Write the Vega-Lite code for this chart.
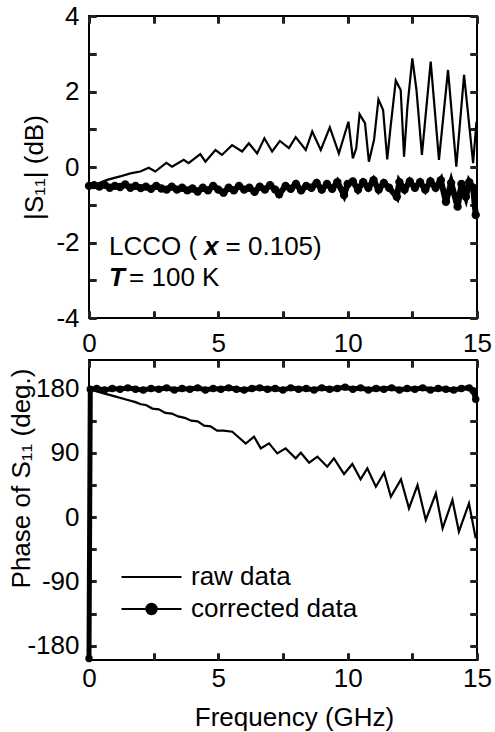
{
"$schema": "https://vega.github.io/schema/vega-lite/v6.json",
"background": "white",
"padding": {"left": 6, "top": 2, "right": 15, "bottom": 0},
"config": {
  "font": "Liberation Sans",
  "view": {"stroke": "black", "strokeWidth": 2},
  "axis": {"labelFont": "Liberation Sans", "labelFontSize": 26, "labelColor": "black", "titleFont": "Liberation Sans", "titleFontSize": 26, "titleFontWeight": "normal", "titleColor": "black", "domain": false, "grid": false, "labelFlush": false, "labelOverlap": false},
  "legend": {"labelFont": "Liberation Sans", "labelFontSize": 26, "labelColor": "black", "labelLimit": 400}
},
"datasets": {
  "mag": [
    {"f": 0, "v": -0.5, "series": "raw data"},
    {"f": 0.3, "v": -0.45, "series": "raw data"},
    {"f": 0.7, "v": -0.34, "series": "raw data"},
    {"f": 1.2, "v": -0.25, "series": "raw data"},
    {"f": 1.6, "v": -0.17, "series": "raw data"},
    {"f": 1.98, "v": -0.12, "series": "raw data"},
    {"f": 2.31, "v": -0.02, "series": "raw data"},
    {"f": 2.56, "v": -0.12, "series": "raw data"},
    {"f": 2.99, "v": 0.11, "series": "raw data"},
    {"f": 3.21, "v": 0.01, "series": "raw data"},
    {"f": 3.66, "v": 0.19, "series": "raw data"},
    {"f": 3.85, "v": 0.1, "series": "raw data"},
    {"f": 4.3, "v": 0.34, "series": "raw data"},
    {"f": 4.5, "v": 0.14, "series": "raw data"},
    {"f": 4.89, "v": 0.45, "series": "raw data"},
    {"f": 5.14, "v": 0.32, "series": "raw data"},
    {"f": 5.53, "v": 0.58, "series": "raw data"},
    {"f": 5.92, "v": 0.41, "series": "raw data"},
    {"f": 6.18, "v": 0.63, "series": "raw data"},
    {"f": 6.5, "v": 0.36, "series": "raw data"},
    {"f": 6.78, "v": 0.76, "series": "raw data"},
    {"f": 7.08, "v": 0.41, "series": "raw data"},
    {"f": 7.38, "v": 0.69, "series": "raw data"},
    {"f": 7.73, "v": 0.5, "series": "raw data"},
    {"f": 7.99, "v": 0.79, "series": "raw data"},
    {"f": 8.38, "v": 0.45, "series": "raw data"},
    {"f": 8.63, "v": 0.94, "series": "raw data"},
    {"f": 8.96, "v": 0.45, "series": "raw data"},
    {"f": 9.31, "v": 1.05, "series": "raw data"},
    {"f": 9.66, "v": 0.36, "series": "raw data"},
    {"f": 10.03, "v": 1.2, "series": "raw data"},
    {"f": 10.2, "v": 0.23, "series": "raw data"},
    {"f": 10.33, "v": 0.49, "series": "raw data"},
    {"f": 10.46, "v": 1.4, "series": "raw data"},
    {"f": 10.67, "v": 1.16, "series": "raw data"},
    {"f": 10.82, "v": 0.14, "series": "raw data"},
    {"f": 11.02, "v": 0.72, "series": "raw data"},
    {"f": 11.19, "v": 1.79, "series": "raw data"},
    {"f": 11.37, "v": 1.51, "series": "raw data"},
    {"f": 11.53, "v": 0.2, "series": "raw data"},
    {"f": 11.66, "v": 1.07, "series": "raw data"},
    {"f": 11.86, "v": 2.29, "series": "raw data"},
    {"f": 12.05, "v": 2.04, "series": "raw data"},
    {"f": 12.18, "v": 0.27, "series": "raw data"},
    {"f": 12.31, "v": 1.6, "series": "raw data"},
    {"f": 12.5, "v": 2.88, "series": "raw data"},
    {"f": 12.66, "v": 2.04, "series": "raw data"},
    {"f": 12.87, "v": 0.32, "series": "raw data"},
    {"f": 13.21, "v": 2.79, "series": "raw data"},
    {"f": 13.53, "v": 0.19, "series": "raw data"},
    {"f": 13.88, "v": 2.57, "series": "raw data"},
    {"f": 14.2, "v": 0.01, "series": "raw data"},
    {"f": 14.5, "v": 2.44, "series": "raw data"},
    {"f": 14.85, "v": 0.1, "series": "raw data"},
    {"f": 14.98, "v": 1.2, "series": "raw data"},
    {"f": 0, "v": -0.5, "series": "corrected data"},
    {"f": 0.2, "v": -0.48, "series": "corrected data"},
    {"f": 0.4, "v": -0.52, "series": "corrected data"},
    {"f": 0.6, "v": -0.47, "series": "corrected data"},
    {"f": 0.8, "v": -0.55, "series": "corrected data"},
    {"f": 1.0, "v": -0.5, "series": "corrected data"},
    {"f": 1.2, "v": -0.53, "series": "corrected data"},
    {"f": 1.4, "v": -0.46, "series": "corrected data"},
    {"f": 1.6, "v": -0.55, "series": "corrected data"},
    {"f": 1.8, "v": -0.5, "series": "corrected data"},
    {"f": 2.0, "v": -0.56, "series": "corrected data"},
    {"f": 2.2, "v": -0.52, "series": "corrected data"},
    {"f": 2.4, "v": -0.58, "series": "corrected data"},
    {"f": 2.6, "v": -0.5, "series": "corrected data"},
    {"f": 2.8, "v": -0.57, "series": "corrected data"},
    {"f": 3.0, "v": -0.6, "series": "corrected data"},
    {"f": 3.2, "v": -0.52, "series": "corrected data"},
    {"f": 3.4, "v": -0.6, "series": "corrected data"},
    {"f": 3.6, "v": -0.55, "series": "corrected data"},
    {"f": 3.8, "v": -0.62, "series": "corrected data"},
    {"f": 4.0, "v": -0.57, "series": "corrected data"},
    {"f": 4.2, "v": -0.65, "series": "corrected data"},
    {"f": 4.4, "v": -0.55, "series": "corrected data"},
    {"f": 4.6, "v": -0.62, "series": "corrected data"},
    {"f": 4.8, "v": -0.5, "series": "corrected data"},
    {"f": 5.0, "v": -0.6, "series": "corrected data"},
    {"f": 5.2, "v": -0.68, "series": "corrected data"},
    {"f": 5.4, "v": -0.55, "series": "corrected data"},
    {"f": 5.6, "v": -0.62, "series": "corrected data"},
    {"f": 5.8, "v": -0.5, "series": "corrected data"},
    {"f": 6.0, "v": -0.6, "series": "corrected data"},
    {"f": 6.2, "v": -0.55, "series": "corrected data"},
    {"f": 6.4, "v": -0.66, "series": "corrected data"},
    {"f": 6.6, "v": -0.52, "series": "corrected data"},
    {"f": 6.8, "v": -0.6, "series": "corrected data"},
    {"f": 7.0, "v": -0.48, "series": "corrected data"},
    {"f": 7.2, "v": -0.6, "series": "corrected data"},
    {"f": 7.35, "v": -0.72, "series": "corrected data"},
    {"f": 7.6, "v": -0.5, "series": "corrected data"},
    {"f": 7.8, "v": -0.58, "series": "corrected data"},
    {"f": 8.0, "v": -0.45, "series": "corrected data"},
    {"f": 8.2, "v": -0.62, "series": "corrected data"},
    {"f": 8.4, "v": -0.5, "series": "corrected data"},
    {"f": 8.6, "v": -0.55, "series": "corrected data"},
    {"f": 8.8, "v": -0.42, "series": "corrected data"},
    {"f": 9.0, "v": -0.6, "series": "corrected data"},
    {"f": 9.2, "v": -0.45, "series": "corrected data"},
    {"f": 9.4, "v": -0.58, "series": "corrected data"},
    {"f": 9.6, "v": -0.4, "series": "corrected data"},
    {"f": 9.86, "v": -0.74, "series": "corrected data"},
    {"f": 10.0, "v": -0.45, "series": "corrected data"},
    {"f": 10.2, "v": -0.38, "series": "corrected data"},
    {"f": 10.4, "v": -0.6, "series": "corrected data"},
    {"f": 10.6, "v": -0.4, "series": "corrected data"},
    {"f": 10.8, "v": -0.55, "series": "corrected data"},
    {"f": 11.0, "v": -0.35, "series": "corrected data"},
    {"f": 11.2, "v": -0.6, "series": "corrected data"},
    {"f": 11.4, "v": -0.42, "series": "corrected data"},
    {"f": 11.6, "v": -0.55, "series": "corrected data"},
    {"f": 11.9, "v": -0.79, "series": "corrected data"},
    {"f": 12.0, "v": -0.4, "series": "corrected data"},
    {"f": 12.2, "v": -0.6, "series": "corrected data"},
    {"f": 12.4, "v": -0.38, "series": "corrected data"},
    {"f": 12.6, "v": -0.55, "series": "corrected data"},
    {"f": 12.8, "v": -0.4, "series": "corrected data"},
    {"f": 13.0, "v": -0.6, "series": "corrected data"},
    {"f": 13.2, "v": -0.38, "series": "corrected data"},
    {"f": 13.4, "v": -0.55, "series": "corrected data"},
    {"f": 13.6, "v": -0.35, "series": "corrected data"},
    {"f": 13.8, "v": -0.92, "series": "corrected data"},
    {"f": 14.0, "v": -0.42, "series": "corrected data"},
    {"f": 14.25, "v": -1.05, "series": "corrected data"},
    {"f": 14.4, "v": -0.45, "series": "corrected data"},
    {"f": 14.57, "v": -0.79, "series": "corrected data"},
    {"f": 14.7, "v": -0.4, "series": "corrected data"},
    {"f": 14.85, "v": -0.55, "series": "corrected data"},
    {"f": 14.95, "v": -1.27, "series": "corrected data"}
  ],
  "phase": [
    {"f": 0.02, "v": 179, "series": "raw data"},
    {"f": 0.5, "v": 174, "series": "raw data"},
    {"f": 1.0, "v": 169, "series": "raw data"},
    {"f": 1.5, "v": 164, "series": "raw data"},
    {"f": 1.8, "v": 161, "series": "raw data"},
    {"f": 2.0, "v": 158, "series": "raw data"},
    {"f": 2.2, "v": 157, "series": "raw data"},
    {"f": 2.45, "v": 152, "series": "raw data"},
    {"f": 2.7, "v": 151, "series": "raw data"},
    {"f": 2.95, "v": 146, "series": "raw data"},
    {"f": 3.2, "v": 145, "series": "raw data"},
    {"f": 3.45, "v": 141, "series": "raw data"},
    {"f": 3.7, "v": 139, "series": "raw data"},
    {"f": 3.95, "v": 135, "series": "raw data"},
    {"f": 4.2, "v": 134, "series": "raw data"},
    {"f": 4.45, "v": 128, "series": "raw data"},
    {"f": 4.7, "v": 127, "series": "raw data"},
    {"f": 4.95, "v": 121, "series": "raw data"},
    {"f": 5.2, "v": 121, "series": "raw data"},
    {"f": 5.54, "v": 119.6, "series": "raw data"},
    {"f": 6.06, "v": 103, "series": "raw data"},
    {"f": 6.38, "v": 112.6, "series": "raw data"},
    {"f": 6.64, "v": 96.3, "series": "raw data"},
    {"f": 6.96, "v": 103.3, "series": "raw data"},
    {"f": 7.28, "v": 89.3, "series": "raw data"},
    {"f": 7.6, "v": 96.3, "series": "raw data"},
    {"f": 7.99, "v": 82.3, "series": "raw data"},
    {"f": 8.19, "v": 90.2, "series": "raw data"},
    {"f": 8.51, "v": 76.2, "series": "raw data"},
    {"f": 8.83, "v": 84.6, "series": "raw data"},
    {"f": 9.21, "v": 70.6, "series": "raw data"},
    {"f": 9.47, "v": 82.3, "series": "raw data"},
    {"f": 9.86, "v": 60.3, "series": "raw data"},
    {"f": 10.18, "v": 74.3, "series": "raw data"},
    {"f": 10.5, "v": 52.9, "series": "raw data"},
    {"f": 10.76, "v": 68.3, "series": "raw data"},
    {"f": 11.09, "v": 42.6, "series": "raw data"},
    {"f": 11.41, "v": 62.2, "series": "raw data"},
    {"f": 11.67, "v": 28.6, "series": "raw data"},
    {"f": 12.06, "v": 52.9, "series": "raw data"},
    {"f": 12.37, "v": 12.3, "series": "raw data"},
    {"f": 12.7, "v": 45, "series": "raw data"},
    {"f": 13.02, "v": -4, "series": "raw data"},
    {"f": 13.41, "v": 33.3, "series": "raw data"},
    {"f": 13.67, "v": -15.7, "series": "raw data"},
    {"f": 14.05, "v": 24, "series": "raw data"},
    {"f": 14.3, "v": -20.3, "series": "raw data"},
    {"f": 14.69, "v": 19.3, "series": "raw data"},
    {"f": 14.95, "v": -29.7, "series": "raw data"},
    {"f": 0.0, "v": -198, "series": "corrected data"},
    {"f": 0.05, "v": 179, "series": "corrected data"},
    {"f": 0.3, "v": 180, "series": "corrected data"},
    {"f": 0.6, "v": 178, "series": "corrected data"},
    {"f": 0.9, "v": 180, "series": "corrected data"},
    {"f": 1.2, "v": 179, "series": "corrected data"},
    {"f": 1.5, "v": 181, "series": "corrected data"},
    {"f": 1.8, "v": 179, "series": "corrected data"},
    {"f": 2.1, "v": 178, "series": "corrected data"},
    {"f": 2.4, "v": 180, "series": "corrected data"},
    {"f": 2.7, "v": 179, "series": "corrected data"},
    {"f": 3.0, "v": 181, "series": "corrected data"},
    {"f": 3.3, "v": 178, "series": "corrected data"},
    {"f": 3.6, "v": 180, "series": "corrected data"},
    {"f": 3.9, "v": 179, "series": "corrected data"},
    {"f": 4.2, "v": 181, "series": "corrected data"},
    {"f": 4.5, "v": 178, "series": "corrected data"},
    {"f": 4.8, "v": 180, "series": "corrected data"},
    {"f": 5.1, "v": 179, "series": "corrected data"},
    {"f": 5.4, "v": 181, "series": "corrected data"},
    {"f": 5.7, "v": 179, "series": "corrected data"},
    {"f": 6.0, "v": 178, "series": "corrected data"},
    {"f": 6.3, "v": 180, "series": "corrected data"},
    {"f": 6.6, "v": 181, "series": "corrected data"},
    {"f": 6.9, "v": 179, "series": "corrected data"},
    {"f": 7.2, "v": 180, "series": "corrected data"},
    {"f": 7.5, "v": 178, "series": "corrected data"},
    {"f": 7.8, "v": 181, "series": "corrected data"},
    {"f": 8.1, "v": 179, "series": "corrected data"},
    {"f": 8.4, "v": 180, "series": "corrected data"},
    {"f": 8.7, "v": 178, "series": "corrected data"},
    {"f": 9.0, "v": 181, "series": "corrected data"},
    {"f": 9.3, "v": 179, "series": "corrected data"},
    {"f": 9.6, "v": 180, "series": "corrected data"},
    {"f": 9.9, "v": 182, "series": "corrected data"},
    {"f": 10.2, "v": 179, "series": "corrected data"},
    {"f": 10.5, "v": 181, "series": "corrected data"},
    {"f": 10.8, "v": 178, "series": "corrected data"},
    {"f": 11.1, "v": 180, "series": "corrected data"},
    {"f": 11.4, "v": 179, "series": "corrected data"},
    {"f": 11.7, "v": 181, "series": "corrected data"},
    {"f": 12.0, "v": 178, "series": "corrected data"},
    {"f": 12.3, "v": 180, "series": "corrected data"},
    {"f": 12.6, "v": 179, "series": "corrected data"},
    {"f": 12.9, "v": 181, "series": "corrected data"},
    {"f": 13.2, "v": 178, "series": "corrected data"},
    {"f": 13.5, "v": 180, "series": "corrected data"},
    {"f": 13.8, "v": 179, "series": "corrected data"},
    {"f": 14.1, "v": 178, "series": "corrected data"},
    {"f": 14.4, "v": 180, "series": "corrected data"},
    {"f": 14.7, "v": 181, "series": "corrected data"},
    {"f": 14.85, "v": 177, "series": "corrected data"},
    {"f": 14.95, "v": 165, "series": "corrected data"}
  ]
},
"vconcat": [
  {
    "width": 388, "height": 302,
    "layer": [
      {
        "data": {"name": "mag"},
        "mark": {"type": "line"},
        "encoding": {
          "x": {"field": "f", "type": "quantitative", "scale": {"domain": [0, 15], "nice": false},
                "axis": {"orient": "bottom", "title": null, "values": [0, 2.5, 5, 7.5, 10, 12.5, 15], "labelExpr": "datum.value % 5 === 0 ? '' + datum.value : ''", "labelPadding": 12, "ticks": true, "tickSize": 7, "offset": -7, "tickColor": "#222222", "tickWidth": 3, "grid": true, "gridColor": "#000000", "gridWidth": 2.5, "gridOpacity": 1, "gridDash": [7, 288, 7]}},
          "y": {"field": "v", "type": "quantitative", "scale": {"domain": [-4, 4], "nice": false},
                "axis": {"orient": "left", "title": "|S₁₁| (dB)", "titleX": -62, "titleBaseline": "middle", "values": [-4, -3, -2, -1, 0, 1, 2, 3, 4], "labelExpr": "datum.value % 2 === 0 ? '' + datum.value : ''", "labelPadding": 10, "ticks": true, "tickSize": 7, "offset": -7, "tickColor": "#222222", "tickWidth": 3, "grid": true, "gridColor": "#000000", "gridWidth": 2.5, "gridOpacity": 1, "gridDash": [7, 374, 7]}},
          "color": {"field": "series", "type": "nominal", "scale": {"domain": ["raw data", "corrected data"], "range": ["black", "black"]}, "legend": null},
          "strokeWidth": {"field": "series", "type": "nominal", "scale": {"domain": ["raw data", "corrected data"], "range": [2.2, 6]}, "legend": null},
          "order": {"field": "f", "type": "quantitative"}
        }
      },
      {
        "data": {"name": "mag"},
        "transform": [{"filter": "datum.series === 'corrected data'"}],
        "mark": {"type": "circle", "size": 70, "opacity": 1, "color": "black"},
        "encoding": {
          "x": {"field": "f", "type": "quantitative", "axis": {"orient": "top", "title": null, "labels": false, "values": [0, 2.5, 5, 7.5, 10, 12.5, 15], "ticks": true, "tickSize": 7, "offset": -7, "tickColor": "#222222", "tickWidth": 3}},
          "y": {"field": "v", "type": "quantitative", "axis": {"orient": "right", "title": null, "labels": false, "values": [-4, -3, -2, -1, 0, 1, 2, 3, 4], "ticks": true, "tickSize": 7, "offset": -7, "tickColor": "#222222", "tickWidth": 3}}
        }
      },
      {
        "data": {"values": [{}]},
        "mark": {"type": "text", "align": "left", "baseline": "middle", "fontSize": 26, "font": "Liberation Sans", "color": "black"},
        "encoding": {"x": {"datum": 0.77, "type": "quantitative", "axis": null}, "y": {"datum": -2.11, "type": "quantitative", "axis": null}, "text": {"value": "LCCO ("}}
      },
      {
        "data": {"values": [{}]},
        "mark": {"type": "text", "align": "left", "baseline": "middle", "fontSize": 26, "font": "Liberation Sans", "fontStyle": "italic", "fontWeight": "bold", "color": "black"},
        "encoding": {"x": {"datum": 4.45, "type": "quantitative", "axis": null}, "y": {"datum": -2.11, "type": "quantitative", "axis": null}, "text": {"value": "x"}}
      },
      {
        "data": {"values": [{}]},
        "mark": {"type": "text", "align": "left", "baseline": "middle", "fontSize": 26, "font": "Liberation Sans", "color": "black"},
        "encoding": {"x": {"datum": 5.28, "type": "quantitative", "axis": null}, "y": {"datum": -2.11, "type": "quantitative", "axis": null}, "text": {"value": "= 0.105)"}}
      },
      {
        "data": {"values": [{}]},
        "mark": {"type": "text", "align": "left", "baseline": "middle", "fontSize": 26, "font": "Liberation Sans", "fontStyle": "italic", "fontWeight": "bold", "color": "black"},
        "encoding": {"x": {"datum": 0.77, "type": "quantitative", "axis": null}, "y": {"datum": -2.95, "type": "quantitative", "axis": null}, "text": {"value": "T"}}
      },
      {
        "data": {"values": [{}]},
        "mark": {"type": "text", "align": "left", "baseline": "middle", "fontSize": 26, "font": "Liberation Sans", "color": "black"},
        "encoding": {"x": {"datum": 1.55, "type": "quantitative", "axis": null}, "y": {"datum": -2.95, "type": "quantitative", "axis": null}, "text": {"value": "= 100 K"}}
      }
    ],
    "resolve": {"axis": {"x": "independent", "y": "independent"}}
  },
  {
    "width": 388, "height": 300,
    "layer": [
      {
        "data": {"name": "phase"},
        "transform": [{"filter": "datum.series === 'corrected data'"}],
        "mark": {"type": "line", "strokeWidth": 5, "color": "black"},
        "encoding": {
          "x": {"field": "f", "type": "quantitative", "scale": {"domain": [0, 15], "nice": false}, "axis": null},
          "y": {"field": "v", "type": "quantitative", "scale": {"domain": [-200, 220], "nice": false}, "axis": null},
          "order": {"field": "f", "type": "quantitative"}
        }
      },
      {
        "data": {"name": "phase"},
        "mark": {"type": "line", "strokeWidth": 2.2},
        "encoding": {
          "x": {"field": "f", "type": "quantitative",
                "axis": {"orient": "bottom", "title": "Frequency (GHz)", "titleX": 205, "values": [0, 2.5, 5, 7.5, 10, 12.5, 15], "labelExpr": "datum.value % 5 === 0 ? '' + datum.value : ''", "labelPadding": 5, "titlePadding": 13, "ticks": true, "tickSize": 7, "offset": -7, "tickColor": "#222222", "tickWidth": 3, "grid": true, "gridColor": "#000000", "gridWidth": 2.5, "gridOpacity": 1, "gridDash": [7, 286, 7]}},
          "y": {"field": "v", "type": "quantitative",
                "axis": {"orient": "left", "title": "Phase of S₁₁ (deg.)", "titleX": -75, "titleY": 118, "titleBaseline": "middle", "values": [-180, -135, -90, -45, 0, 45, 90, 135, 180], "labelExpr": "datum.value % 90 === 0 ? '' + datum.value : ''", "labelPadding": 10, "ticks": true, "tickSize": 7, "offset": -7, "tickColor": "#222222", "tickWidth": 3, "grid": true, "gridColor": "#000000", "gridWidth": 2.5, "gridOpacity": 1, "gridDash": [7, 374, 7]}},
          "color": {"field": "series", "type": "nominal", "scale": {"domain": ["raw data", "corrected data"], "range": ["black", "black"]},
                    "legend": {"orient": "none", "legendX": 31, "legendY": 204, "title": null, "labelFontSize": 26, "labelLimit": 400, "symbolSize": 3600, "clipHeight": 26, "rowPadding": 6, "labelOffset": 8,
                               "encode": {"symbols": {"update": {"shape": {"signal": "datum.value === 'raw data' ? 'M-1,0H1' : 'M-1,0H1M-0.17,0A0.17,0.17,0,1,1,0.17,0A0.17,0.17,0,1,1,-0.17,0Z'"}, "fill": {"value": "black"}, "stroke": {"value": "black"}, "strokeWidth": {"value": 2.2}, "opacity": {"value": 1}}}}}},
          "order": {"field": "f", "type": "quantitative"}
        }
      },
      {
        "data": {"name": "phase"},
        "transform": [{"filter": "datum.series === 'corrected data'"}],
        "mark": {"type": "circle", "size": 55, "opacity": 1, "color": "black"},
        "encoding": {
          "x": {"field": "f", "type": "quantitative", "axis": {"orient": "top", "title": null, "labels": false, "values": [0, 2.5, 5, 7.5, 10, 12.5, 15], "ticks": true, "tickSize": 7, "offset": -7, "tickColor": "#222222", "tickWidth": 3}},
          "y": {"field": "v", "type": "quantitative", "axis": {"orient": "right", "title": null, "labels": false, "values": [-180, -135, -90, -45, 0, 45, 90, 135, 180], "ticks": true, "tickSize": 7, "offset": -7, "tickColor": "#222222", "tickWidth": 3}}
        }
      }
    ],
    "resolve": {"axis": {"x": "independent", "y": "independent"}}
  }
],
"spacing": 42,
"bounds": "flush",
"resolve": {"scale": {"color": "independent", "strokeWidth": "independent"}}
}
